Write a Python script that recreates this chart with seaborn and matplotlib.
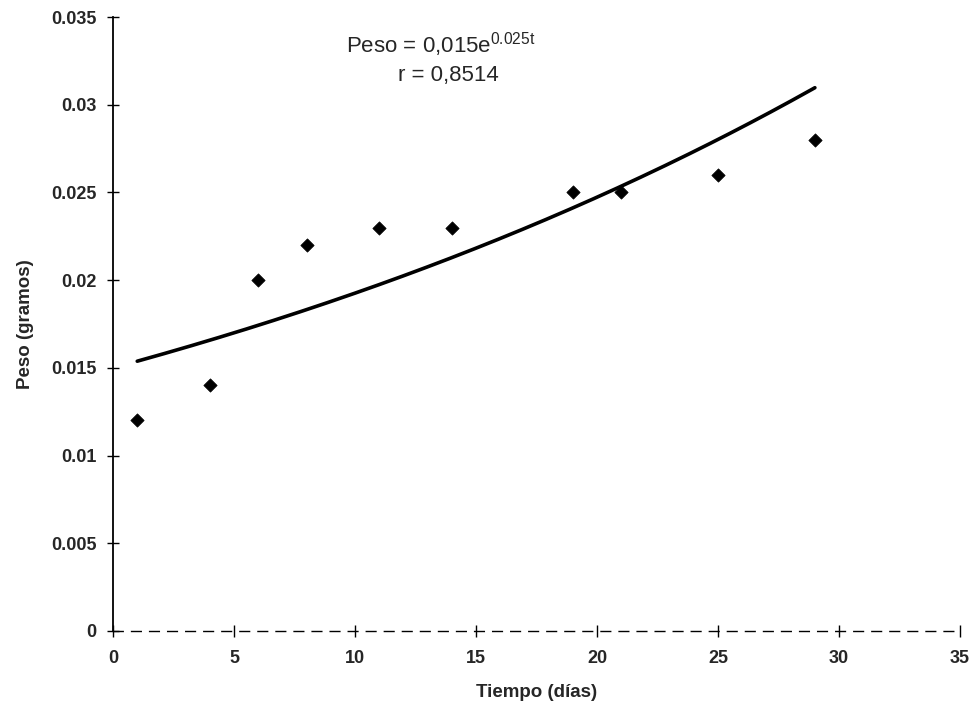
import numpy as np
import pandas as pd
import matplotlib
matplotlib.use("Agg")
import matplotlib.pyplot as plt
import seaborn as sns

# Data
tiempo = [1, 4, 6, 8, 11, 14, 19, 21, 25, 29]
peso = [0.012, 0.014, 0.020, 0.022, 0.023, 0.023, 0.025, 0.025, 0.026, 0.028]

# Exponential trendline as stated on the chart: Peso = 0.015 e^(0.025 t)
coef_a = 0.015
coef_b = 0.025
r_value = "0,8514"

x_ticks = [0, 5, 10, 15, 20, 25, 30, 35]
y_ticks = [0, 0.005, 0.01, 0.015, 0.02, 0.025, 0.03, 0.035]
y_tick_labels = ["0", "0.005", "0.01", "0.015", "0.02", "0.025", "0.03", "0.035"]

sns.set_theme(style="white")
plt.rcParams["font.family"] = ["Liberation Sans", "DejaVu Sans"]
plt.rcParams["mathtext.fontset"] = "custom"
plt.rcParams["mathtext.rm"] = "Liberation Sans"
plt.rcParams["mathtext.it"] = "Liberation Sans"

fig = plt.figure(figsize=(9.77, 7.10), dpi=100)
ax = fig.add_axes([0.1157, 0.1113, 0.8670, 0.8647])

df = pd.DataFrame({"Tiempo": tiempo, "Peso": peso})
t_fit = np.linspace(min(tiempo), max(tiempo), 200)
fit_df = pd.DataFrame({"Tiempo": t_fit, "Peso": coef_a * np.exp(coef_b * t_fit)})

sns.lineplot(data=fit_df, x="Tiempo", y="Peso", ax=ax, color="black", linewidth=2.6)
sns.scatterplot(data=df, x="Tiempo", y="Peso", ax=ax, marker="D", s=46,
                color="black", edgecolor="black", linewidth=0.5, zorder=3)

ax.set_xlim(0, 35)
ax.set_ylim(0, 0.035)
ax.set_xticks(x_ticks)
ax.set_xticklabels([str(v) for v in x_ticks])
ax.set_yticks(y_ticks)
ax.set_yticklabels(y_tick_labels)

for lab in ax.get_xticklabels() + ax.get_yticklabels():
    lab.set_fontweight("bold")
    lab.set_fontsize(13)

ax.tick_params(axis="y", which="major", direction="inout", length=8, width=1,
               color="black", pad=8, left=True)
ax.tick_params(axis="x", which="major", direction="inout", length=8, width=1,
               color="black", pad=10, bottom=True)

for side in ["top", "right"]:
    ax.spines[side].set_visible(False)
ax.spines["left"].set_color("black")
ax.spines["left"].set_linewidth(1.3)
ax.spines["bottom"].set_color("black")
ax.spines["bottom"].set_linewidth(1.0)
ax.spines["bottom"].set_linestyle((0, (7, 6)))

ax.set_xlabel("Tiempo (días)", fontsize=13.5, fontweight="bold", labelpad=12)
ax.set_ylabel("Peso (gramos)", fontsize=13.5, fontweight="bold", labelpad=12)

ax.text(0.387, 0.955, r"Peso = 0,015e$^{\mathrm{0.025t}}$", transform=ax.transAxes,
        ha="center", va="center", fontsize=16)
ax.text(0.396, 0.905, "r = " + r_value, transform=ax.transAxes,
        ha="center", va="center", fontsize=16)

fig.savefig("out.png", dpi=100, facecolor="white")
